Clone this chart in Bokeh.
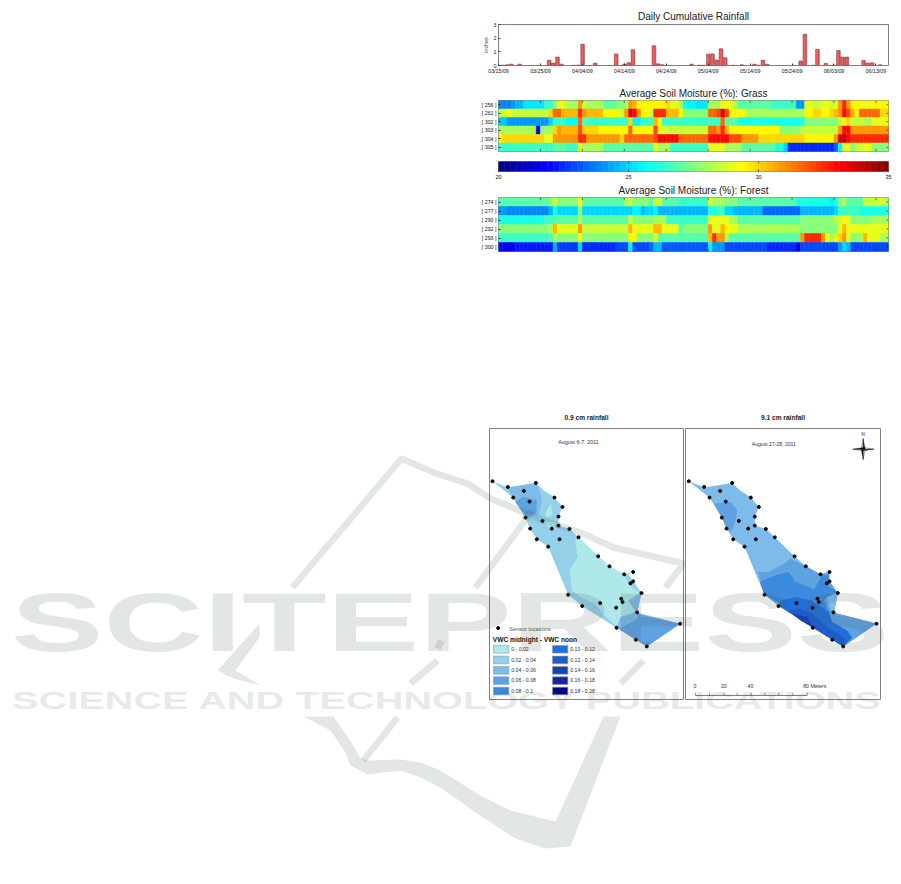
from bokeh.embed import file_html
from bokeh.resources import INLINE
from bokeh.plotting import figure
from bokeh.layouts import GridBox
from bokeh.models import (ColumnDataSource, FixedTicker, LinearColorMapper, Range1d, Div, Title)
from bokeh.core.properties import value
from bokeh.transform import transform, dodge

FONT = "Liberation Sans"

# ---------------------------------------------------------------- rainfall
RAIN_DAY = [1,2,3,5,12,13,14,15,18,19,20,23,28,30,31,32,37,38,39,46,48,49,50,51,52,53,54,56,58,61,62,63,64,
            72,73,75,76,78,80,81,82,83,87,88,89,91]
RAIN_IN = [.03,.05,.10,.10,.38,.18,.62,.10,.02,.03,1.55,.17,.85,.10,.20,1.15,1.45,.12,.05,.10,.02,.02,.83,.85,.40,1.22,.57,.02,.05,.10,.02,.38,.10,
           .33,2.28,.02,1.17,.15,.02,1.10,.62,.62,.37,.17,.20,.05]
DATE_TICKS = [0,10,20,30,40,50,60,70,80,90]
DATE_LABELS = ["03/15/09","03/25/09","04/04/09","04/14/09","04/24/09","05/04/09","05/14/09","05/24/09","06/03/09","06/13/09"]
N_DAYS = 93

# ---------------------------------------------------------------- soil moisture, grass (%)
GRASS_LABELS = ["[ 256 ]","[ 261 ]","[ 302 ]","[ 303 ]","[ 304 ]","[ 305 ]"]
G256 = [23.8,23.8,23.8,24.2,24.5,24.5,25.2,25.2,25.2,25.2,
        25.2,26.5,26.5,27.5,29,29,28,28,28,31,
        28.5,28,28,28,28,27,27,27,27.5,27.5,
        28,31,30.5,29.5,29.5,29.5,29.5,29.5,29.5,29.5,
        30,29,29,28,25.8,25.5,25.5,25.3,25.3,25.3,
        28,28,28,29.5,29,29,28,27,27,27,
        27,27,27,27,27,26.5,26.5,26.5,26.5,26.5,
        26.5,24,24,29,29,28.5,28.5,29,29,28.5,
        29,31,32.5,31,29.5,29.5,29.5,29,29.5,29.5,
        29.5,29.5,29.5]
G261 = [28.5,28.5,29.5,28.5,28.5,28.5,28.5,28.5,28.5,28.5,
        28.5,28.5,30,31.5,31.5,30.5,30.5,30.5,30.5,32.5,
        31,30.5,30.5,30.5,30.5,29.5,29.5,29.5,29.5,28.5,
        31,33.5,33,31,29.5,29.5,28.5,32.5,32.5,32.5,
        30.5,30.5,30.5,29.5,27.5,27.5,27.5,27.5,27.5,27.5,
        31.5,31.5,32,33.5,32,29.5,29.5,29.5,29.5,28,
        28,28,28,28,28,28,28,28,28,28,
        28,28,28,29.5,29.5,30,30,29.5,29.5,30,
        30.5,31,33,32,30.5,29.5,31.5,31.5,31.5,31.5,
        31.5,30,30]
G302 = [24.7,24.7,24.2,24.2,24.2,24.2,24.2,24.2,24.2,24.2,
        24.2,24,25,26.5,26.5,26.5,25.8,25.8,25.8,31.5,
        27,26.5,26.5,26.5,26.5,26.5,26.5,26.5,26.5,26.5,
        26.5,30,25.5,25.5,26.5,26.5,26.5,30.5,29,26.5,
        26.5,26.5,26.5,26.5,26.5,26.5,26.5,26.5,26.5,26.5,
        26.5,26.5,26.5,31.5,27,27,27,26,26,26,
        26,26,26,26,26,26,26,26,26,26,
        26,26,26,27.5,27.5,27.5,27.5,27.5,27.5,27.5,
        27.5,28.5,29.5,30,28.5,28.5,28.5,28,28,29,
        29,29,29]
G303 = [28,28,28,28,28,28,28,28,28,21.5,
        27.5,28,28,30,31,30.5,30.5,30.5,30.5,32,
        30,30,30,30,29.5,29.5,29.5,29.5,29.5,29.5,
        29.5,31.5,29.5,29.5,29.5,29.5,29.5,32,29,29,
        28.5,28.5,28.5,28.5,28.5,28.5,28.5,28.5,28.5,28.5,
        31.5,31.5,31,32.5,30.5,29.5,29.5,29.5,29.5,29.5,
        29.5,29.5,29.5,29.5,29.5,29.5,29.5,27.5,27.5,27.5,
        27.5,27.5,28.5,28.5,28.5,28.5,28.5,28.5,28.5,28.5,
        28.5,31,33,33,31,31,31,31,31,31,
        31,31,31]
G304 = [29.5,30,30,30,30,30,30,30,30,30,
        30,29,29.5,31,31,31,31,31,31,32.5,
        32.5,31,31,31,31,31,31,31,31,30,
        31.5,31.5,31.5,31.5,31.5,31.5,31.5,32,33,33,
        33,33,33,31.5,31.5,31.5,31.5,31.5,31.5,31.5,
        33,33,33,33,33,32,32,32,31,31,
        31,31,30,30,30,30,30,30,30,30,
        30,30,30,29.5,29.5,29.5,29.5,29.5,29.5,29.5,
        31,33.5,34,33,32.5,32.5,32.5,32.5,32.5,32.5,
        32.5,32.5,32.5]
G305 = [26.5,26.5,26.5,26.5,26.5,26.5,26.5,26.5,26.5,26.5,
        26.5,26.5,26.5,27,27,27,26.5,26.5,26.5,29,
        28,28,28,28,28,27,27,27,27,27,
        27,27,27,27,27,27,27,29,28,28,
        28,26.5,26.5,26.5,26.5,26.5,26.5,26.5,26.5,26.5,
        29,29,29,29,28,28,28,28,27,27,
        27,27,27,27,27,27,26,26,25,22.5,
        22.5,22.5,22.5,22.5,22.5,22.5,22.5,22.5,22.5,22.5,
        23.5,25.5,29,29,27.5,28.5,28.5,29,29,27.5,
        27.5,27.5,27.5]
GRASS_ROWS = [G256, G261, G302, G303, G304, G305]

# ---------------------------------------------------------------- soil moisture, forest (%)
FOREST_LABELS = ["[ 274 ]","[ 277 ]","[ 290 ]","[ 292 ]","[ 293 ]","[ 300 ]"]
F274 = [27,27,27,27,27,27,27,27,27,27,
        27,27,27.5,28.5,27.5,27.5,27.5,27.5,27.5,29.5,
        27,27,27,27,27,27,27,27,27,27,
        28,28.5,27.5,27.5,27.5,27.5,27,28.5,28.5,27,
        27,27,27,26.5,26.5,26.5,26.5,26.5,26.5,26.5,
        29,28,28,28,27.5,27.5,27.5,27,27,27,
        27,27,27,27,27,27,27,27,27,27,
        27,26,26,26,26,26,26,26,26,25.5,
        26,27.5,28,27,27,27,27,28.5,28.5,28.5,
        28.5,29,28]
F277 = [24,24,23.8,23.8,23.8,23.8,23.8,23.8,23.8,23.8,
        23.8,23.8,24.5,26,25,25,25,25,25,27.5,
        25,25,25,25,25,25,25,25,25,25,
        25,25,25.5,25.5,24.5,25,25,25.5,24.5,24.5,
        24.5,24.5,24.5,24.5,24.5,24.5,24.5,24.5,24.5,24.5,
        26,26,26.5,26.5,25,25,24.5,24.5,24.5,24.5,
        24.5,24.5,24.5,23.5,23.5,23.5,23.5,23.5,23.5,23.5,
        23.5,23.5,24.5,24.5,24.5,24.5,24.5,24.5,24.5,24.5,
        25,26.5,26.5,26.5,26.5,26.5,26,26,26,26,
        26,26,26]
F290 = [26,26,26,26,26,26,26,26,26,26,
        26,26.5,26.5,27,27,27,27,27,27,28,
        27,27,27,27,27,27,27,27,27,27,
        27,28.5,27.5,27.5,27.5,27.5,27.5,28,28,28,
        26.5,26.5,26.5,26.5,26.5,26.5,26.5,26.5,26.5,26.5,
        29,29,29,29,29,28,28,27,27,27,
        27,27,27,27,27,27,27,27,27,27,
        27,27,27.5,27.5,27.5,27.5,27.5,27.5,27.5,27.5,
        28.5,28.5,29.5,29,27.5,27.5,27.5,27.5,27.5,28,
        28,28,28]
F292 = [27.5,27.5,27.5,27.5,27.5,27.5,27.5,27.5,27.5,27.5,
        27.5,27.5,28,30.5,29,29,29,29,29,31,
        28.5,28.5,28.5,28.5,28.5,28.5,28.5,28.5,28.5,28.5,
        28.5,30.5,29,29,29,29,29,30.5,30.5,29,
        29,29,29,27,27.5,27.5,27.5,27.5,27.5,27.5,
        31,29,29,30.5,29.5,29,29,28,28,28,
        28,28,28,28,28,28,28,28,28,28,
        28,28,27.5,27.5,27.5,27.5,27.5,27.5,27.5,27.5,
        27.5,29,30.5,29,29,29,29,29,29,29,
        29,29,29]
F293 = [26.5,26.5,26.5,26.5,26.5,26.5,26.5,26.5,26.5,26.5,
        26.5,26.5,27,28,27.5,27.5,27.5,27.5,27.5,29.5,
        27.5,27.5,27.5,27.5,27.5,27.5,27.5,27.5,27.5,27.5,
        27.5,29.5,29.5,27.5,27.5,27.5,27.5,29,27,27,
        27,27,27,27,27,27,27,27,27,27,
        30.5,32.5,31,31,28,27,27,27,27,27,
        27,27,27,27,27,27,27,27,27,27,
        27,27,31,32.5,32.5,32.5,32.5,31,29,28,
        29,30,31,29,27.5,27.5,28,30.5,29,29,
        29,28,28]
F300 = [22,21.5,21.5,21.5,22.2,22.2,22.2,22.2,22.2,22.2,
        22.2,22.2,22.2,24.5,22.8,22.8,22.8,22.8,22.8,25,
        22.5,22.5,22.5,22.5,22.5,22.5,22.5,22.5,23,23,
        23,25.5,23,23,23,23,23.5,24.5,24.5,23.2,
        23.2,23.2,23.2,23.2,23.2,23.2,23.2,23.2,23.2,23.2,
        25.5,24,24,24,23,23,23,23,23,23,
        23,23,23,23,22.5,22.5,22.5,22.5,22.5,22.5,
        22.5,21.5,23,23,23,23,23,23,23,23,
        23,24,25,24.5,23,23,23,23,23,23,
        23,23,23]
FOREST_ROWS = [F274, F277, F290, F292, F293, F300]
CBAR_TICKS = [20, 25, 30, 35]

# ---------------------------------------------------------------- maps
SENSOR_X = [37,83,131,167,99,148,223,247,136,235,187,150,215,235,268,170,238,295,204,354,388,432,459,459,451,484,264,306,360,423,427,408,471,409,600,467,500]
SENSOR_Y = [243,260,272,248,292,304,292,320,352,349,362,385,385,376,386,417,417,411,439,468,498,522,515,543,549,578,583,617,608,595,605,622,636,682,670,718,738]
OUT_X = [37,83,167,190,223,247,235,235,268,295,354,388,432,458,445,459,484,471,600,500,467,409,306,264,204,170,150,136,99]
OUT_Y = [243,262,248,270,292,320,350,376,386,411,468,498,522,515,522,543,578,636,670,738,718,682,617,583,439,417,385,352,292]

CLASS_LABELS = ["0 - 0.02","0.02 - 0.04","0.04 - 0.06","0.06 - 0.08","0.08 - 0.1","0.10 - 0.12","0.12 - 0.14","0.14 - 0.16","0.16 - 0.18","0.18 - 0.28"]
CLASS_COLORS = ["#AEE8E8","#93D0EA","#7DBBEB","#5EA2E2","#3B8ADD","#2070D8","#1F5CC8","#1A3FB0","#14269A","#05058C"]

LEFT_CLASS = [1,2,3,0,0,0,2,3,2]
LEFT_X = [OUT_X,
          [83,167,178,185,175,136,99],
          [105,128,170,168,136],
          [195,212,217,200],
          [187,225,225,205],
          [285,295,354,388,432,447,478,445,465,420,412,372,345,300,275,268,292],
          [445,484,471,445,465],
          [415,472,472,600,500,467],
          [412,420,465,472,415]]
LEFT_Y = [OUT_Y,
          [262,248,268,300,345,352,292],
          [305,290,300,340,345],
          [340,310,345,352],
          [362,368,388,382],
          [420,411,468,498,522,553,578,600,632,650,680,645,610,590,570,510,470],
          [600,578,636,655,632],
          [685,655,640,670,738,718],
          [680,650,640,655,685]]

RIGHT_CLASS = [2,3,3,2,4,5,6,7]
RIGHT_X = [OUT_X,
           [112,162,182,177,165,150,136],
           [244,277,322,342,388,432,459,459,484,472,600,500,264],
           [484,450,460,472],
           [250,297,337,357,397,412,437,457,452,482,452,442,462,412,312,264],
           [307,312,357,407,457,467,512,527,500,410],
           [332,372,407,452,507,500,467,410],
           [347,392,410,372]]
RIGHT_Y = [OUT_Y,
           [310,305,330,360,395,385,352],
           [515,515,490,475,498,522,515,543,578,636,670,738,583],
           [578,590,625,636],
           [545,525,515,545,560,570,525,525,555,575,590,600,640,600,610,583],
           [617,600,590,600,635,665,690,712,738,682],
           [630,625,640,680,715,738,718,682],
           [640,650,682,660]]

SCALE_TICKS = [57,99,142,182,224,265,307,349,392]
SCALE_NUM_X = [55,142,222]
SCALE_NUMS = ["0","20","40"]
STAR_DARK_X = [[560,566,560],[560,592,560],[560,554,560],[560,529,560]]
STAR_DARK_Y = [[115,147,147],[147,147,152],[178,147,147],[147,147,142]]
STAR_LIGHT_X = [[560,554,560],[560,592,560],[560,566,560],[560,529,560]]
STAR_LIGHT_Y = [[115,147,147],[147,147,142],[178,147,147],[147,147,152]]

# ---------------------------------------------------------------- background logo (page pixels)
LOGO_LINES_X = [[292,401,433,467,490,543,580,613,683,665],[475,532],[410,437],[437,441],[397,363],[620,643]]
LOGO_LINES_Y = [[587,458,472,483,498,520,532,547,563,587],[587,510],[683,660],[648,640],[717,760],[683,660]]
LOGO_WEDGE_X = [[259,259,235,260,233,217],
                [303,333,353,360,367,400,420,440,480,510,555,603,620,570,545,515,475,440,420,400,367,350,345,330,303]]
LOGO_WEDGE_Y = [[623,637,670,685,678,670],
                [716,716,745,758,760,759,762,770,795,810,821,716,716,846,848,838,812,787,777,770,774,765,752,730,716]]

# ---------------------------------------------------------------- helpers
def jet(t):
    f = lambda c: int(round(255 * max(0.0, min(1.0, 1.5 - abs(4 * t - c)))))
    return "#%02x%02x%02x" % (f(3), f(2), f(1))

JET = [jet((i + 0.5) / 64) for i in range(64)]
mapper = LinearColorMapper(palette=JET, low=20, high=35)
GRAY = "#808080"
items = []

# every plot shares one grid cell, so they must share one set of borders
ML, MR, MT, MB = 40, 6, 24, 14

def panel(left, top, w, h, **kw):
    p = figure(frame_width=w, frame_height=h, min_border_left=ML, min_border_right=MR,
               min_border_top=MT, min_border_bottom=MB, toolbar_location=None, output_backend="svg",
               background_fill_color=None, border_fill_color=None, outline_line_color=GRAY,
               margin=(top - MT, 0, 0, left - ML), align="start", **kw)
    p.grid.visible = False
    items.append((p, 0, 0))
    return p

def style_axis(ax, size="5.3px"):
    ax.axis_line_color = None
    ax.major_tick_line_color = "#333333"
    ax.major_tick_in = 2
    ax.major_tick_out = 0
    ax.minor_tick_line_color = None
    ax.major_label_text_font = FONT
    ax.major_label_text_font_size = size
    ax.major_label_text_color = "#111111"
    ax.major_label_standoff = 2

def set_title(p, text, standoff=3):
    p.title = Title(text=text, align="center", text_font=FONT, text_font_size="10px",
                    text_font_style="normal", text_color="#1a1a1a", standoff=standoff, offset=0)

def edge_ticks(p, xs_tick, y_low, y_high, ys_tick, x_high):
    """small inward ticks along top, bottom and right edges"""
    p.segment(xs_tick, [y_low] * len(xs_tick), xs_tick, [y_low - 0.3] * len(xs_tick), line_color="#333333", line_width=0.7)
    p.segment(xs_tick, [y_high] * len(xs_tick), xs_tick, [y_high + 0.3] * len(xs_tick), line_color="#333333", line_width=0.7)
    if ys_tick:
        p.segment([x_high] * len(ys_tick), ys_tick, [x_high - 0.5] * len(ys_tick), ys_tick, line_color="#333333", line_width=0.7)

def heat(top, h, labels, rows, title, standoff):
    p = panel(498, top, 390, h, x_range=Range1d(0, N_DAYS), y_range=Range1d(6, 0), x_axis_location=None)
    xs, ys, vs = [], [], []
    for r, row in enumerate(rows):
        for i, v in enumerate(row):
            xs.append(i + 0.5); ys.append(r + 0.5); vs.append(v)
    p.rect(x="x", y="y", width=1, height=1, source=ColumnDataSource(dict(x=xs, y=ys, v=vs)),
           fill_color=transform("v", mapper), line_color=transform("v", mapper), line_width=0.5)
    centers = [r + 0.5 for r in range(len(labels))]
    p.yaxis.ticker = FixedTicker(ticks=centers)
    p.yaxis.major_label_overrides = dict(zip(centers, labels))
    style_axis(p.yaxis[0])
    edge_ticks(p, DATE_TICKS[1:], 6, 0, centers, N_DAYS)
    set_title(p, title, standoff)
    return p

# ---------------------------------------------------------------- rainfall panel
rain = panel(498, 24, 390, 41, x_range=Range1d(0, N_DAYS), y_range=Range1d(0, 3))
src = ColumnDataSource(dict(x=RAIN_DAY, top=RAIN_IN))
rain.vbar(x=dodge("x", 0.22, range=rain.x_range), top="top", width=0.85, bottom=0, source=src,
          fill_color="#a8a8a8", line_color=None)
rain.vbar(x="x", top="top", width=0.75, bottom=0, source=src,
          fill_color="#ff5a5f", line_color="#7a2020", line_width=0.5)
rain.xaxis.ticker = FixedTicker(ticks=DATE_TICKS)
rain.xaxis.major_label_overrides = dict(zip(DATE_TICKS, DATE_LABELS))
rain.yaxis.ticker = FixedTicker(ticks=[0, 1, 2, 3])
style_axis(rain.xaxis[0]); style_axis(rain.yaxis[0])
rain.yaxis.axis_label = "inches"
rain.yaxis.axis_label_text_font = FONT
rain.yaxis.axis_label_text_font_size = "5.3px"
rain.yaxis.axis_label_text_font_style = "normal"
rain.yaxis.axis_label_standoff = 2
set_title(rain, "Daily Cumulative Rainfall", standoff=5)

# ---------------------------------------------------------------- heat maps and colour bar
heat(100, 51, GRASS_LABELS, GRASS_ROWS, "Average Soil Moisture (%): Grass", 3)

cb = panel(498, 161, 390, 10, x_range=Range1d(20, 35), y_range=Range1d(0, 1), y_axis_location=None)
levels = [20 + (i + 0.5) * 15 / 64 for i in range(64)]
cb.rect(x="x", y=0.5, width=15 / 64, height=1, source=ColumnDataSource(dict(x=levels)),
        fill_color=transform("x", mapper), line_color=transform("x", mapper), line_width=0.5)
cb.xaxis.ticker = FixedTicker(ticks=CBAR_TICKS)
style_axis(cb.xaxis[0], "5.6px")
cb.xaxis.major_label_standoff = 3
cb.segment(CBAR_TICKS[1:3], [1, 1], CBAR_TICKS[1:3], [0.8, 0.8], line_color="#333333", line_width=0.7)

heat(197, 54, FOREST_LABELS, FOREST_ROWS, "Average Soil Moisture (%): Forest", 4)

# ---------------------------------------------------------------- maps
def map_panel(left, w, x0, x1, title, class_ids, xs, ys):
    p = panel(left, 428, w, 271, x_range=Range1d(x0, x1), y_range=Range1d(897, 85),
              x_axis_location=None, y_axis_location=None)
    p.patches(xs, ys, fill_color=[CLASS_COLORS[c] for c in class_ids], line_color=None)
    p.scatter(SENSOR_X, SENSOR_Y, size=3, color="black")
    p.title = Title(text=title, align="center", text_font=FONT, text_font_size="6.6px",
                    text_font_style="bold", text_color="#222222", standoff=15)
    return p

def label(p, x, y, text, size="5.4px", style="normal", align="left", color="#333333"):
    p.text([x], [y], text=[text], text_font=value(FONT), text_font_size=size, text_font_style=style,
           text_align=align, text_baseline="middle", text_color=color)

left = map_panel(489, 194, 28, 610, "0.9 cm rainfall", LEFT_CLASS, LEFT_X, LEFT_Y)
right = map_panel(685, 195, 27, 612, "9.1 cm rainfall", RIGHT_CLASS, RIGHT_X, RIGHT_Y)

label(left, 295, 125, "August 6-7, 2011", align="center")
label(right, 292, 132, "August 27-28, 2011", size="5.1px", align="center")

left.scatter([54], [683], size=3, color="black")
label(left, 87, 685, "Sensor locations", size="5.6px", color="#555555")
label(left, 38, 716, "VWC midnight - VWC noon", size="6.6px", style="bold", color="#111111")
SW_X0 = [40] * 5 + [217] * 5
SW_TOP = [735, 767, 798, 829, 860] * 2
left.quad(left=SW_X0, right=[x + 46 for x in SW_X0], top=SW_TOP, bottom=[t + 23 for t in SW_TOP],
          fill_color=CLASS_COLORS, line_color="#8a9aa8", line_width=0.6)
for x, t, lab in zip(SW_X0, SW_TOP, CLASS_LABELS):
    label(left, x + 53, t + 11, lab, size="5.2px")

# scale bar + north arrow
for x, t in zip(SCALE_NUM_X, SCALE_NUMS):
    label(right, x, 858, t, size="5.2px", align="center")
label(right, 380, 858, "80 Meters", size="5.2px")
right.line([SCALE_TICKS[0], SCALE_TICKS[-1]], [885, 885], line_color="#444444", line_width=0.7)
right.segment(SCALE_TICKS, [885] * 9, SCALE_TICKS, [877] * 9, line_color="#444444", line_width=0.6)
right.patches(STAR_LIGHT_X, STAR_LIGHT_Y, fill_color="white", line_color="#222222", line_width=0.4)
right.patches(STAR_DARK_X, STAR_DARK_Y, fill_color="#111111", line_color="#111111", line_width=0.3)
label(right, 560, 104, "N", size="4.6px", align="center", color="#111111")

# ---------------------------------------------------------------- watermark layer on top
wm = panel(ML, MT, 840, 846, x_range=Range1d(ML, ML + 840), y_range=Range1d(MT + 846, MT),
           x_axis_location=None, y_axis_location=None)
wm.outline_line_color = None
WM = "#4d5a5a"
wm.multi_line(LOGO_LINES_X, LOGO_LINES_Y, line_color=WM, line_alpha=0.15, line_width=6.5)
wm.patches(LOGO_WEDGE_X, LOGO_WEDGE_Y, fill_color=WM, fill_alpha=0.15, line_color=None)

def mark(text, left_px, top_px, size, lh, scale, w):
    return Div(text=text, width=w, height=lh, margin=(top_px, 0, 0, left_px), align="start",
               styles={"font-family": FONT, "font-weight": "bold", "font-size": f"{size}px",
                       "line-height": f"{lh}px", "color": "rgba(77,90,90,0.15)", "white-space": "nowrap",
                       "transform": f"scaleX({scale})", "transform-origin": "left top",
                       "pointer-events": "none"})

items.append((mark("SCITEPRESS", 11, 573, 83, 100, 1.67, 530), 0, 0))
items.append((mark("SCIENCE AND TECHNOLOGY PUBLICATIONS", 12, 686, 24, 30, 1.655, 530), 0, 0))

root = GridBox(children=items)
open("out.html", "w").write(file_html(root, INLINE))
